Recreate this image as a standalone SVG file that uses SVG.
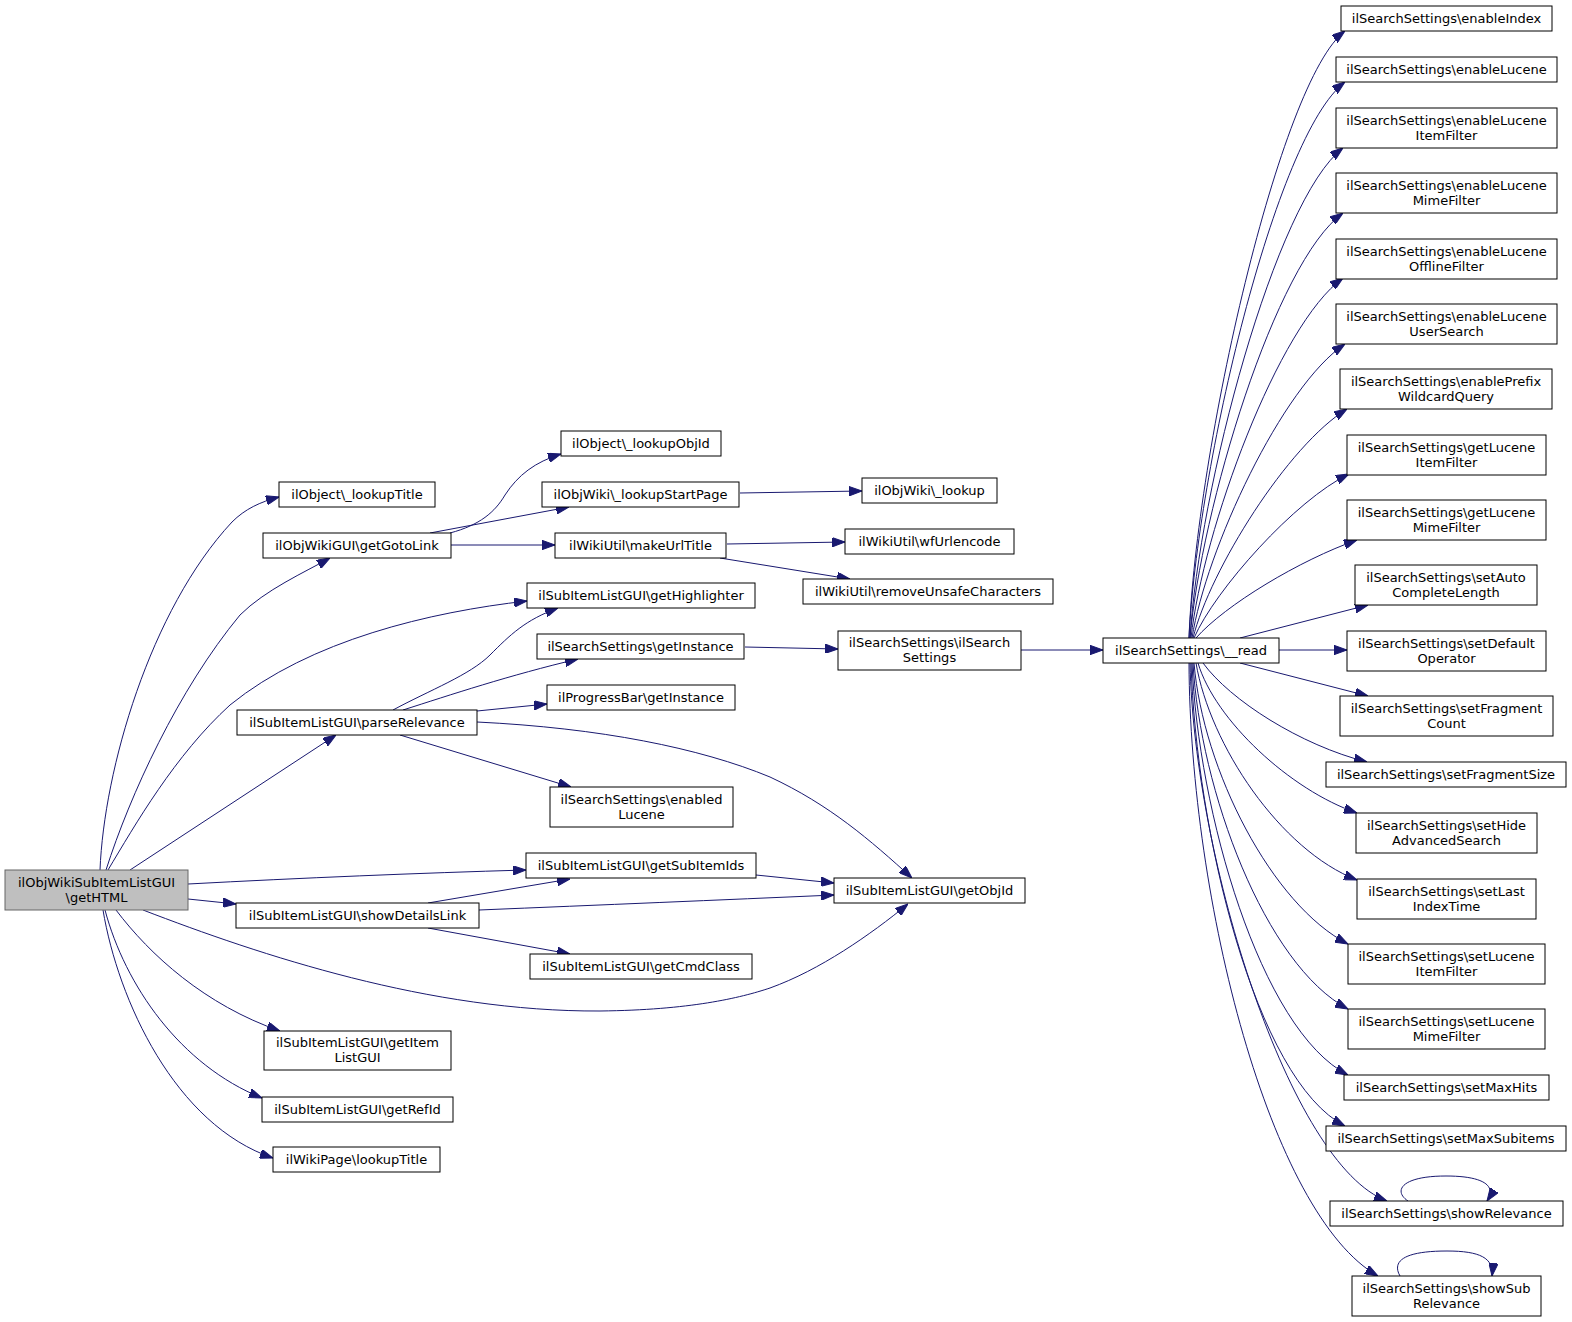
<svg xmlns="http://www.w3.org/2000/svg" width="1572" height="1322" viewBox="0 0 1572 1322">
<style>
.n rect{fill:#ffffff;stroke:#000000;stroke-width:1}
.root rect{fill:#bfbfbf;stroke:#666666;stroke-width:1}
text{font-family:"DejaVu Sans","Liberation Sans",sans-serif;font-size:13px;fill:#000000;text-anchor:middle}
.e path{fill:none;stroke:#191970;stroke-width:1;marker-end:url(#arr)}
</style>
<defs>
<marker id="arr" viewBox="0 0 13 9.4" refX="13" refY="4.7" markerWidth="13" markerHeight="9.4" markerUnits="userSpaceOnUse" orient="auto">
<path d="M0,0 L13,4.7 L0,9.4 z" fill="#191970" stroke="#191970" stroke-width="1"/>
</marker>
</defs>
<rect x="0" y="0" width="1572" height="1322" fill="#ffffff"/>

<g id="edges" class="e">
<path d="M100,870 C104,770 150,610 232,522 C245,509 260,502 279,497"/>
<path d="M106,870 C130,795 178,690 240,615 C265,590 305,572 330,558"/>
<path d="M108,870 C135,825 175,755 230,705 C310,640 430,612 527,601"/>
<path d="M130,870 L336,735"/>
<path d="M188,884 C300,878 420,873 526,870"/>
<path d="M188,899 L236,904"/>
<path d="M143,910 C260,955 430,1012 600,1011 C690,1010 740,998 770,988 C820,970 870,935 908,904"/>
<path d="M116,910 C150,955 205,1005 280,1031"/>
<path d="M105,910 C125,985 180,1065 262,1098"/>
<path d="M103,910 C118,1000 175,1125 273,1158"/>
<path d="M450,533 C480,525 495,512 505,495 C518,475 535,462 561,454"/>
<path d="M430,533 L569,507"/>
<path d="M451,545 L555,545"/>
<path d="M740,493 L862,491"/>
<path d="M727,544 L845,542"/>
<path d="M720,558 L850,579"/>
<path d="M393,710 C430,690 470,675 490,655 C510,635 525,620 558,608"/>
<path d="M403,710 C450,695 510,675 578,659"/>
<path d="M477,711 L547,704"/>
<path d="M477,722 C600,728 700,748 770,777 C830,805 870,840 912,878"/>
<path d="M400,735 L571,787"/>
<path d="M428,903 L570,879"/>
<path d="M479,910 C600,905 720,900 834,895"/>
<path d="M428,928 L570,954"/>
<path d="M756,875 L834,883"/>
<path d="M745,647 L838,649"/>
<path d="M1021,650 L1103,650"/>
<path d="M1189,638 C1196,450 1280,80 1345,31"/>
<path d="M1189,638 C1197,470 1275,135 1345,82"/>
<path d="M1190,638 C1199,490 1275,200 1343,148"/>
<path d="M1190,638 C1201,510 1275,262 1343,213"/>
<path d="M1191,638 C1203,530 1278,325 1343,278"/>
<path d="M1192,638 C1206,550 1282,386 1345,344"/>
<path d="M1193,638 C1210,570 1288,445 1347,409"/>
<path d="M1194,638 C1215,590 1295,500 1349,474"/>
<path d="M1196,638 C1225,605 1300,560 1357,540"/>
<path d="M1240,638 L1368,605"/>
<path d="M1279,650 L1347,650"/>
<path d="M1240,663 L1368,696"/>
<path d="M1203,663 C1230,700 1300,745 1367,762"/>
<path d="M1198,663 C1215,720 1290,790 1357,813"/>
<path d="M1196,663 C1210,745 1280,850 1357,880"/>
<path d="M1194,663 C1203,770 1272,905 1348,944"/>
<path d="M1193,663 C1200,790 1265,965 1348,1009"/>
<path d="M1192,663 C1198,810 1260,1030 1348,1075"/>
<path d="M1191,663 C1196,830 1255,1080 1345,1126"/>
<path d="M1190,663 C1194,860 1290,1165 1387,1201"/>
<path d="M1189,663 C1190,900 1270,1215 1378,1276"/>
<path d="M1408,1201 C1393,1191 1401,1176 1446,1176 C1484,1176 1497,1186 1487,1201"/>
<path d="M1400,1276 C1392,1262 1402,1251 1447,1251 C1480,1251 1494,1258 1492,1276"/>
</g>

<g id="node_getHTML" class="root"><rect x="5" y="870" width="183" height="40"/><text x="96.5" y="886.5">ilObjWikiSubItemListGUI</text><text x="96.5" y="901.5">\getHTML</text></g>
<g id="node_lookupTitle" class="n"><rect x="279" y="482" width="156" height="25"/><text x="357" y="498.5">ilObject\_lookupTitle</text></g>
<g id="node_getGotoLink" class="n"><rect x="263" y="533" width="188" height="25"/><text x="357" y="549.5">ilObjWikiGUI\getGotoLink</text></g>
<g id="node_parseRelevance" class="n"><rect x="237" y="710" width="240" height="25"/><text x="357" y="726.5">ilSubItemListGUI\parseRelevance</text></g>
<g id="node_showDetailsLink" class="n"><rect x="236" y="903" width="243" height="25"/><text x="357.5" y="919.5">ilSubItemListGUI\showDetailsLink</text></g>
<g id="node_getItemListGUI" class="n"><rect x="264" y="1031" width="187" height="39"/><text x="357.5" y="1047">ilSubItemListGUI\getItem</text><text x="357.5" y="1062">ListGUI</text></g>
<g id="node_getRefId" class="n"><rect x="262" y="1097" width="191" height="25"/><text x="357.5" y="1113.5">ilSubItemListGUI\getRefId</text></g>
<g id="node_wikiLookupTitle" class="n"><rect x="273" y="1147" width="167" height="25"/><text x="356.5" y="1163.5">ilWikiPage\lookupTitle</text></g>

<g id="node_lookupObjId" class="n"><rect x="561" y="431" width="160" height="25"/><text x="641" y="447.5">ilObject\_lookupObjId</text></g>
<g id="node_lookupStartPage" class="n"><rect x="542" y="482" width="197" height="25"/><text x="640.5" y="498.5">ilObjWiki\_lookupStartPage</text></g>
<g id="node_makeUrlTitle" class="n"><rect x="555" y="533" width="171" height="25"/><text x="640.5" y="549.5">ilWikiUtil\makeUrlTitle</text></g>
<g id="node_getHighlighter" class="n"><rect x="527" y="583" width="228" height="25"/><text x="641" y="599.5">ilSubItemListGUI\getHighlighter</text></g>
<g id="node_ssGetInstance" class="n"><rect x="537" y="634" width="207" height="25"/><text x="640.5" y="650.5">ilSearchSettings\getInstance</text></g>
<g id="node_pbGetInstance" class="n"><rect x="547" y="685" width="188" height="25"/><text x="641" y="701.5">ilProgressBar\getInstance</text></g>
<g id="node_enabledLucene" class="n"><rect x="550" y="787" width="183" height="40"/><text x="641.5" y="803.5">ilSearchSettings\enabled</text><text x="641.5" y="818.5">Lucene</text></g>
<g id="node_getSubItemIds" class="n"><rect x="526" y="853" width="230" height="25"/><text x="641" y="869.5">ilSubItemListGUI\getSubItemIds</text></g>
<g id="node_getCmdClass" class="n"><rect x="530" y="954" width="222" height="25"/><text x="641" y="970.5">ilSubItemListGUI\getCmdClass</text></g>

<g id="node_lookup" class="n"><rect x="862" y="478" width="135" height="25"/><text x="929.5" y="494.5">ilObjWiki\_lookup</text></g>
<g id="node_wfUrlencode" class="n"><rect x="845" y="529" width="169" height="25"/><text x="929.5" y="545.5">ilWikiUtil\wfUrlencode</text></g>
<g id="node_removeUnsafe" class="n"><rect x="803" y="579" width="250" height="25"/><text x="928" y="595.5">ilWikiUtil\removeUnsafeCharacters</text></g>
<g id="node_ssCtor" class="n"><rect x="838" y="631" width="183" height="39"/><text x="929.5" y="646.5">ilSearchSettings\ilSearch</text><text x="929.5" y="661.5">Settings</text></g>
<g id="node_getObjId" class="n"><rect x="834" y="878" width="191" height="25"/><text x="929.5" y="894.5">ilSubItemListGUI\getObjId</text></g>

<g id="node_read" class="n"><rect x="1103" y="638" width="176" height="25"/><text x="1191" y="654.5">ilSearchSettings\__read</text></g>

<g id="node_enableIndex" class="n"><rect x="1341" y="6" width="211" height="25"/><text x="1446.5" y="22.5">ilSearchSettings\enableIndex</text></g>
<g id="node_enableLucene" class="n"><rect x="1336" y="57" width="221" height="25"/><text x="1446.5" y="73.5">ilSearchSettings\enableLucene</text></g>
<g id="node_enableLuceneItemFilter" class="n"><rect x="1336" y="108" width="221" height="40"/><text x="1446.5" y="124.5">ilSearchSettings\enableLucene</text><text x="1446.5" y="139.5">ItemFilter</text></g>
<g id="node_enableLuceneMimeFilter" class="n"><rect x="1336" y="173" width="221" height="40"/><text x="1446.5" y="189.5">ilSearchSettings\enableLucene</text><text x="1446.5" y="204.5">MimeFilter</text></g>
<g id="node_enableLuceneOfflineFilter" class="n"><rect x="1336" y="239" width="221" height="40"/><text x="1446.5" y="255.5">ilSearchSettings\enableLucene</text><text x="1446.5" y="270.5">OfflineFilter</text></g>
<g id="node_enableLuceneUserSearch" class="n"><rect x="1336" y="304" width="221" height="40"/><text x="1446.5" y="320.5">ilSearchSettings\enableLucene</text><text x="1446.5" y="335.5">UserSearch</text></g>
<g id="node_enablePrefixWildcardQuery" class="n"><rect x="1340" y="369" width="212" height="40"/><text x="1446" y="385.5">ilSearchSettings\enablePrefix</text><text x="1446" y="400.5">WildcardQuery</text></g>
<g id="node_getLuceneItemFilter" class="n"><rect x="1347" y="435" width="199" height="40"/><text x="1446.5" y="451.5">ilSearchSettings\getLucene</text><text x="1446.5" y="466.5">ItemFilter</text></g>
<g id="node_getLuceneMimeFilter" class="n"><rect x="1347" y="500" width="199" height="40"/><text x="1446.5" y="516.5">ilSearchSettings\getLucene</text><text x="1446.5" y="531.5">MimeFilter</text></g>
<g id="node_setAutoCompleteLength" class="n"><rect x="1355" y="565" width="182" height="40"/><text x="1446" y="581.5">ilSearchSettings\setAuto</text><text x="1446" y="596.5">CompleteLength</text></g>
<g id="node_setDefaultOperator" class="n"><rect x="1347" y="631" width="199" height="40"/><text x="1446.5" y="647.5">ilSearchSettings\setDefault</text><text x="1446.5" y="662.5">Operator</text></g>
<g id="node_setFragmentCount" class="n"><rect x="1340" y="696" width="213" height="40"/><text x="1446.5" y="712.5">ilSearchSettings\setFragment</text><text x="1446.5" y="727.5">Count</text></g>
<g id="node_setFragmentSize" class="n"><rect x="1326" y="762" width="240" height="25"/><text x="1446" y="778.5">ilSearchSettings\setFragmentSize</text></g>
<g id="node_setHideAdvancedSearch" class="n"><rect x="1356" y="813" width="181" height="40"/><text x="1446.5" y="829.5">ilSearchSettings\setHide</text><text x="1446.5" y="844.5">AdvancedSearch</text></g>
<g id="node_setLastIndexTime" class="n"><rect x="1357" y="879" width="179" height="40"/><text x="1446.5" y="895.5">ilSearchSettings\setLast</text><text x="1446.5" y="910.5">IndexTime</text></g>
<g id="node_setLuceneItemFilter" class="n"><rect x="1348" y="944" width="197" height="40"/><text x="1446.5" y="960.5">ilSearchSettings\setLucene</text><text x="1446.5" y="975.5">ItemFilter</text></g>
<g id="node_setLuceneMimeFilter" class="n"><rect x="1348" y="1009" width="197" height="40"/><text x="1446.5" y="1025.5">ilSearchSettings\setLucene</text><text x="1446.5" y="1040.5">MimeFilter</text></g>
<g id="node_setMaxHits" class="n"><rect x="1344" y="1075" width="205" height="25"/><text x="1446.5" y="1091.5">ilSearchSettings\setMaxHits</text></g>
<g id="node_setMaxSubitems" class="n"><rect x="1326" y="1126" width="240" height="25"/><text x="1446" y="1142.5">ilSearchSettings\setMaxSubitems</text></g>
<g id="node_showRelevance" class="n"><rect x="1330" y="1201" width="233" height="25"/><text x="1446.5" y="1217.5">ilSearchSettings\showRelevance</text></g>
<g id="node_showSubRelevance" class="n"><rect x="1352" y="1276" width="189" height="40"/><text x="1446.5" y="1292.5">ilSearchSettings\showSub</text><text x="1446.5" y="1307.5">Relevance</text></g>
</svg>
